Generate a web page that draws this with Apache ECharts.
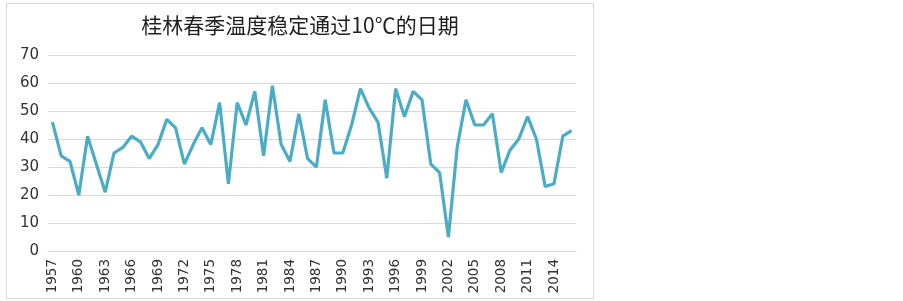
<!DOCTYPE html>
<html>
<head>
<meta charset="utf-8">
<style>
  html, body { margin: 0; padding: 0; background: #fff; }
  #chart { width: 903px; height: 301px; }
</style>
<script src="https://cdn.jsdelivr.net/npm/echarts@6/dist/echarts.min.js"></script>
</head>
<body>
<div id="chart"></div>
<script>
var years = [];
for (var y = 1957; y <= 2016; y++) years.push(String(y));

var days = [
  46, 34, 32, 20, 41, 31, 21, 35, 37, 41,
  39, 33, 38, 47, 44, 31, 38, 44, 38, 53,
  24, 53, 45, 57, 34, 59, 38, 32, 49, 33,
  30, 54, 35, 35, 45, 58, 51, 46, 26, 58,
  48, 57, 54, 31, 28, 5, 37, 54, 45, 45,
  49, 28, 36, 40, 48, 40, 23, 24, 41, 43
];

var yTicks = { min: 0, max: 70, interval: 10 };

var chartDom = document.getElementById("chart");
var myChart = echarts.init(chartDom);

var option = {
  animation: false,
  color: ["#4bacc6"],
  title: {
    text: "桂林春季温度稳定通过10℃的日期",
    left: 295,
    textAlign: "center",
    top: 10,
    textStyle: {
      fontFamily: "Noto Sans CJK SC",
      fontSize: 21,
      fontWeight: "normal",
      color: "#1f1f1f",
    },
  },
  graphic: [
    {
      type: "rect",
      shape: { x: 6.5, y: 3.5, width: 587, height: 295 },
      style: { fill: "none", stroke: "#d9d9d9", lineWidth: 1 },
      silent: true,
    },
  ],
  grid: {
    left: 48,
    right: 327,
    top: 55,
    bottom: 50,
  },
  xAxis: {
    type: "category",
    boundaryGap: true,
    data: years,
    axisLine: { lineStyle: { color: "#d9d9d9", width: 1 } },
    axisTick: { show: false },
    axisLabel: {
      interval: 2,
      rotate: 90,
      margin: 8,
      fontFamily: "DejaVu Sans",
      fontSize: 13.5,
      color: "#333333",
    },
  },
  yAxis: {
    type: "value",
    min: yTicks.min,
    max: yTicks.max,
    interval: yTicks.interval,
    axisLine: { show: false },
    axisTick: { show: false },
    splitLine: { lineStyle: { color: "#d9d9d9", width: 1 } },
    axisLabel: {
      margin: 9,
      fontFamily: "DejaVu Sans",
      fontSize: 15,
      color: "#333333",
    },
  },
  series: [
    {
      name: "日期",
      type: "line",
      data: days,
      showSymbol: false,
      lineStyle: { width: 3.2, color: "#4bacc6" },
    },
  ],
};

myChart.setOption(option);
</script>
</body>
</html>
